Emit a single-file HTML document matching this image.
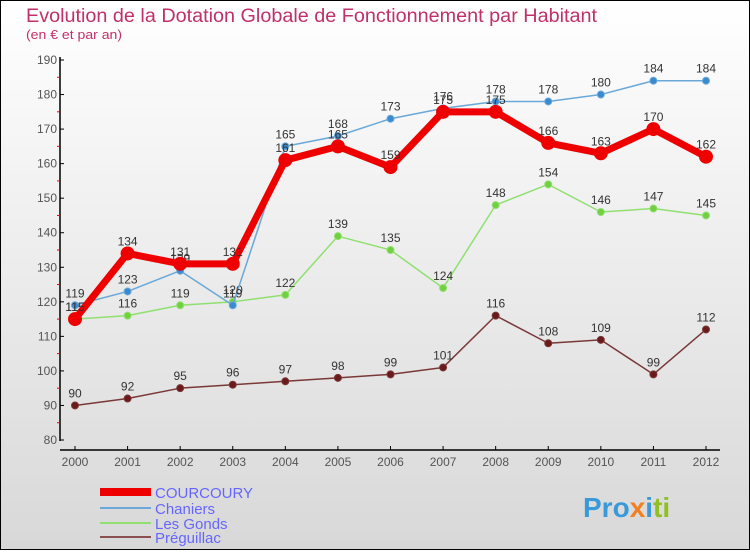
<!DOCTYPE html>
<html><head><meta charset="utf-8"><style>
html,body{margin:0;padding:0}
body{width:750px;height:550px;overflow:hidden;font-family:"Liberation Sans",sans-serif}
svg text{font-family:"Liberation Sans",sans-serif}
</style></head><body>
<svg id="chart" width="750" height="550" xmlns="http://www.w3.org/2000/svg">
<defs><linearGradient id="bg" x1="0" y1="0" x2="0" y2="1"><stop offset="0" stop-color="#ffffff"/><stop offset="1" stop-color="#d8d8d8"/></linearGradient></defs>
<rect x="0.5" y="0.5" width="749" height="549" fill="url(#bg)" stroke="#000"/>
<text x="26" y="22" font-size="19" fill="#c0306a" textLength="571" lengthAdjust="spacingAndGlyphs">Evolution de la Dotation Globale de Fonctionnement par Habitant</text>
<text x="26" y="39" font-size="13" fill="#c0306a" textLength="96" lengthAdjust="spacingAndGlyphs">(en € et par an)</text>
<g id="axes"></g>
<g id="series"></g>
<g id="legend"></g>
<text x="583" y="517" font-size="28" font-weight="bold" fill="#3a9ad9">Pro<tspan fill="#f08020">x</tspan><tspan fill="#3a9ad9">i</tspan><tspan fill="#90c020">ti</tspan></text>
</svg>
<script>
const years=[2000,2001,2002,2003,2004,2005,2006,2007,2008,2009,2010,2011,2012];
const courcoury=[115,134,131,131,161,165,159,175,175,166,163,170,162];
const chaniers=[119,123,129,119,165,168,173,176,178,178,180,184,184];
const lesGonds=[115,116,119,120,122,139,135,124,148,154,146,147,145];
const preguillac=[90,92,95,96,97,98,99,101,116,108,109,99,112];
const yTicks=[80,90,100,110,120,130,140,150,160,170,180,190];
const NS="http://www.w3.org/2000/svg";
const x=i=>75+i*(706-75)/12;
const y=v=>440-(v-80)*(380/110);
function mk(t,a,p){const e=document.createElementNS(NS,t);for(const k in a)e.setAttribute(k,a[k]);p.appendChild(e);return e;}
const ax=document.getElementById('axes');
let l=mk('line',{x1:60,y1:57,x2:60,y2:441,stroke:'#000','stroke-width':1.5},ax);


l=mk('line',{x1:60,y1:450,x2:720,y2:450,stroke:'#000','stroke-width':1.5},ax);


yTicks.forEach(v=>{
  mk('line',{x1:60,y1:y(v),x2:64,y2:y(v),stroke:'#000'},ax);
  if(v<190)mk('line',{x1:57,y1:y(v+5),x2:60,y2:y(v+5),stroke:'#e00'},ax);
  const t=mk('text',{x:57,y:y(v)+4,'font-size':12,fill:'#555','text-anchor':'end'},ax);t.textContent=v;
  
  
});
years.forEach((yr,i)=>{
  mk('line',{x1:x(i),y1:446,x2:x(i),y2:450,stroke:'#000'},ax);
  const t=mk('text',{x:x(i),y:466,'font-size':12,fill:'#555','text-anchor':'middle'},ax);t.textContent=yr;
  
  
});
const sg=document.getElementById('series');
function draw(vals,color,w,r,name,dot){
  const g=mk('g',{},sg);
  
  
  mk('polyline',{points:vals.map((v,i)=>x(i)+','+y(v)).join(' '),fill:'none',stroke:color,'stroke-width':w,'stroke-linejoin':'round'},g);
  vals.forEach((v,i)=>{
    const c=mk('circle',{cx:x(i),cy:y(v),r:r,fill:dot,stroke:color,'stroke-width':1},g);
    
    
    const t=mk('text',{x:x(i),y:y(v)-8,'font-size':12,fill:'#333','text-anchor':'middle'},g);t.textContent=v;
    
    
  });
}
draw(preguillac,'#7a3838',1.5,3.5,'preguillac','#6a1a1a');
draw(lesGonds,'#90e070',1.5,3.5,'les-gonds','#70d040');
draw(chaniers,'#6aa8d8',1.5,3.5,'chaniers','#3a8ad0');
draw(courcoury,'#ee0000',7,6.5,'courcoury','#ee0000');
const lg=document.getElementById('legend');
[['COURCOURY','#ee0000',8,494],['Chaniers','#6aa8d8',2,510],['Les Gonds','#90e070',2,525],['Préguillac','#8a5050',2,539]].forEach(([n,c,w,yy])=>{
  const g=mk('g',{},lg);
  
  
  mk('line',{x1:100,y1:yy-2,x2:151,y2:yy-2,stroke:c,'stroke-width':w},g);
  const t=mk('text',{x:155,y:yy+4,'font-size':15,fill:'#6666ff'},g);t.textContent=n;
});
</script>
</body></html>
